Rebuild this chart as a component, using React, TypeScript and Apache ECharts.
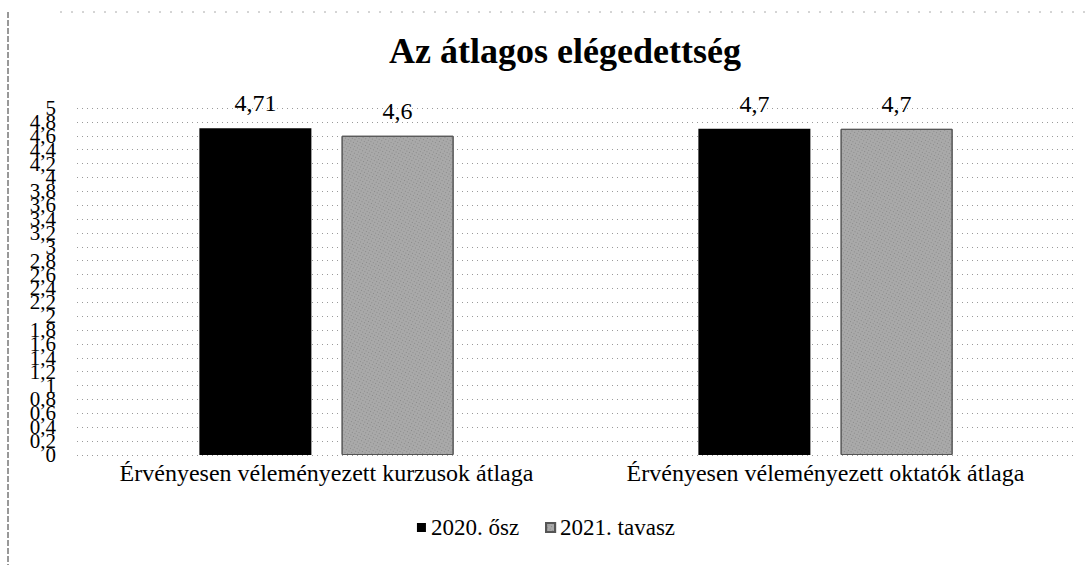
import React, { useEffect, useRef } from "react";
import * as echarts from "echarts";

const categories = [
  "Érvényesen véleményezett kurzusok átlaga",
  "Érvényesen véleményezett oktatók átlaga",
];
const seriesNames = ["2020. ősz", "2021. tavasz"];
const values2020 = [4.71, 4.7];
const values2021 = [4.6, 4.7];
const labels2020 = ["4,71", "4,7"];
const labels2021 = ["4,6", "4,7"];
const yTickLabels = [
  "0", "0,2", "0,4", "0,6", "0,8", "1", "1,2", "1,4", "1,6", "1,8", "2", "2,2", "2,4",
  "2,6", "2,8", "3", "3,2", "3,4", "3,6", "3,8", "4", "4,2", "4,4", "4,6", "4,8", "5",
];

const SERIF = "'Liberation Serif', 'Times New Roman', serif";

export default function App() {
  const ref = useRef<HTMLDivElement>(null);
  useEffect(() => {
    if (!ref.current) return;
    const chart = echarts.init(ref.current, undefined, { renderer: "svg" });
    chart.setOption({
      animation: false,
      backgroundColor: "#ffffff",
      title: {
        text: "Az átlagos elégedettség",
        left: 560,
        textAlign: "center",
        top: 28,
        textStyle: { fontFamily: SERIF, fontSize: 36, fontWeight: "bold", color: "#000" },
      },
      legend: {
        top: 511,
        left: "center",
        padding: [5, 5, 5, 33],
        icon: "rect",
        itemWidth: 9,
        itemHeight: 9,
        itemGap: 26,
        textStyle: { fontFamily: SERIF, fontSize: 23, color: "#000" },
        data: seriesNames,
      },
      grid: { left: 77, right: 17, top: 108, bottom: 110 },
      xAxis: {
        type: "category",
        data: categories,
        axisLine: { show: false },
        axisTick: { show: false },
        axisLabel: { fontFamily: SERIF, fontSize: 24, color: "#000", margin: 6, interval: 0 },
      },
      yAxis: [
        {
          type: "value",
          min: 0,
          max: 5,
          interval: 0.2,
          axisLine: { show: false },
          axisTick: { show: false },
          axisLabel: { show: false },
          splitLine: { lineStyle: { color: "#9a9a9a", type: [1, 4], width: 1 } },
        },
        {
          type: "category",
          position: "left",
          data: yTickLabels,
          boundaryGap: false,
          axisLine: { show: false },
          axisTick: { show: false },
          splitLine: { show: false },
          axisLabel: {
            interval: 0,
            fontFamily: SERIF,
            fontSize: 21,
            color: "#000",
            margin: 21,
            hideOverlap: false,
          },
        },
      ],
      series: [
        {
          name: seriesNames[0],
          type: "bar",
          yAxisIndex: 0,
          data: values2020,
          barWidth: 112,
          barGap: "27%",
          itemStyle: { color: "#000000" },
          label: {
            show: true,
            position: "top",
            distance: 13,
            fontFamily: SERIF,
            fontSize: 24,
            color: "#000",
            formatter: (p: any) => labels2020[p.dataIndex],
          },
        },
        {
          name: seriesNames[1],
          type: "bar",
          yAxisIndex: 0,
          data: values2021,
          barWidth: 112,
          itemStyle: {
            color: "#a9a9a9",
            borderColor: "#555",
            borderWidth: 1,
            decal: {
              symbol: "rect",
              color: "rgba(80,80,80,0.35)",
              dashArrayX: [1, 2],
              dashArrayY: [1, 2],
              rotation: 0.5,
              symbolSize: 1,
            },
          },
          label: {
            show: true,
            position: "top",
            distance: 13,
            fontFamily: SERIF,
            fontSize: 24,
            color: "#000",
            formatter: (p: any) => labels2021[p.dataIndex],
          },
        },
      ],
      graphic: [
        {
          type: "line",
          shape: { x1: 8, y1: 12, x2: 8, y2: 565 },
          style: { stroke: "#333", lineWidth: 1, lineDash: [6, 2] },
        },
        {
          type: "line",
          shape: { x1: 60, y1: 12, x2: 1085, y2: 12 },
          style: { stroke: "#aaa", lineWidth: 1, lineDash: [2, 9] },
        },
      ],
    });
    return () => chart.dispose();
  }, []);
  return (
    <div
      ref={ref}
      style={{ width: 1092, height: 565, position: "absolute", left: 0, top: 0 }}
    />
  );
}
